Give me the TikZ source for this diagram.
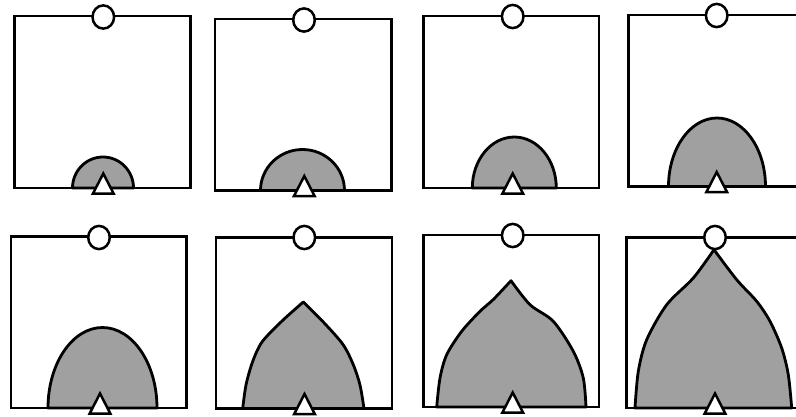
\documentclass[tikz,border=0pt]{standalone}
\begin{document}
\begin{tikzpicture}[x=1pt,y=-1pt,
  frame/.style={draw=black,line width=2.8pt,fill=white,line join=miter},
  blob/.style={draw=black,line width=2.8pt,fill=blobgray,line join=round},
  trimark/.style={draw=black,line width=2.5pt,fill=white,line join=miter},
  pin/.style={draw=black,line width=2.5pt,fill=white}]
\definecolor{blobgray}{RGB}{160,160,160}
\useasboundingbox (0,0) rectangle (796,416);
\clip (0,0) rectangle (796,416);
\newcommand\mytri[2]{\filldraw[trimark] ({#1-10.3},{#2+5.5}) -- (#1,{#2-14.5}) -- ({#1+10.3},{#2+5.5}) -- cycle;}
\newcommand\mypin[2]{\filldraw[pin] (#1,#2) ellipse [x radius=10.8, y radius=11.6];}
% ---- row 1 ----
% panel 1
\filldraw[frame] (14.5,16) rectangle (190.5,188);
\filldraw[blob] (72.5,188) arc[start angle=180,end angle=0,x radius=30.5,y radius=-31] -- cycle;
\mytri{103.3}{188}
\mypin{103.3}{17}
% panel 2
\filldraw[frame] (215,19) rectangle (391.5,190.5);
\filldraw[blob] (260.5,190.5) arc[start angle=180,end angle=0,x radius=42,y radius=-41] -- cycle;
\mytri{304.3}{190.5}
\mypin{304}{20}
% panel 3
\filldraw[frame] (423.5,16) rectangle (599,188);
\filldraw[blob] (472.3,188) arc[start angle=180,end angle=0,x radius=42,y radius=-51] -- cycle;
\mytri{512.7}{188}
\mypin{512.7}{16.5}
% panel 4
\filldraw[frame] (628.5,15) rectangle (830,186.5);
\filldraw[blob] (668.5,186.5) arc[start angle=180,end angle=0,x radius=48.5,y radius=-68.5] -- cycle;
\mytri{716.7}{186.5}
\mypin{716.7}{15.5}
% ---- row 2 ----
% panel 5
\filldraw[frame] (11,236.5) rectangle (186.5,408);
\filldraw[blob] (48,408) arc[start angle=180,end angle=0,x radius=54.5,y radius=-80.5] -- cycle;
\mytri{100}{408}
\mypin{99}{237.5}
% panel 6
\filldraw[frame] (216,237.5) rectangle (392,408.5);
\filldraw[blob] plot[smooth,tension=0.5] coordinates {(242.7,408.5) (246,385) (252.5,362) (262,342) (282,321) (303.3,302)}
  -- plot[smooth,tension=0.5] coordinates {(303.3,302) (323.3,322) (343,344.5) (353.3,364.7) (360,385) (364,408.5)} -- cycle;
\mytri{304.5}{408.5}
\mypin{304.3}{237.5}
% panel 7
\filldraw[frame] (423.5,235) rectangle (599,407);
\filldraw[blob] plot[smooth,tension=0.5] coordinates {(436.7,407) (440,378) (446.7,354.7) (461.7,331.3) (480,311.3) (493.3,299.5) (511,280.7)}
  -- plot[smooth,tension=0.5] coordinates {(511,280.7) (530,304.7) (553.3,321.3) (573.3,351.3) (583.3,378) (586,407)} -- cycle;
\mytri{512.7}{407}
\mypin{512.7}{235.5}
% panel 8
\filldraw[frame] (626.5,237.5) rectangle (830,408);
\filldraw[blob] plot[smooth,tension=0.5] coordinates {(635,408) (638.3,371.3) (646.7,339.7) (666.7,304.7) (693.3,278) (714,249.7)}
  -- plot[smooth,tension=0.5] coordinates {(714,249.7) (736.7,279.7) (756.7,301.3) (770,321.3) (781.7,348) (788.3,374.7) (791.7,408)} -- cycle;
\mytri{715}{408}
\mypin{715}{237.5}
\end{tikzpicture}
\end{document}
